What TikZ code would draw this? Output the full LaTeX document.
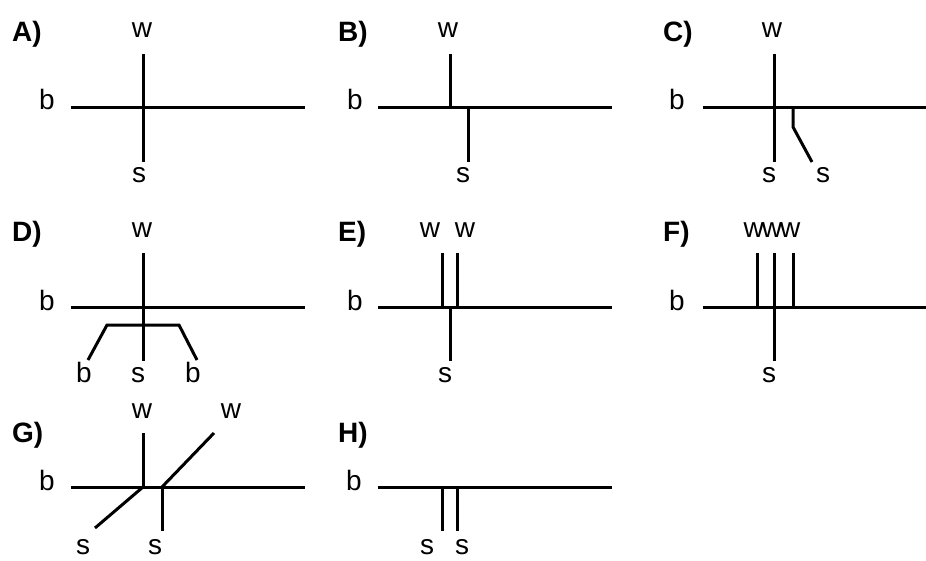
\documentclass[tikz,border=0pt]{standalone}
\usepackage{fontspec}
\setmainfont{Liberation Sans}
\begin{document}
\begin{tikzpicture}[x=1pt,y=-1pt,
  lbl/.style={font=\fontsize{28}{30}\selectfont, inner sep=0pt, anchor=base},
  tag/.style={font=\fontsize{28}{30}\selectfont\bfseries, inner sep=0pt, anchor=base west},
  ln/.style={line width=3pt}]
\useasboundingbox (0,0) rectangle (926,561);

% ---------- A) ----------
\node[tag] (tA) at (12,42) {A)};
\node[lbl] (wA) at (142,38) {w};
\node[lbl] (bA) at (47,110) {b};
\node[lbl] (sA) at (139,183) {s};
\coordinate (A1) at (71,108);  \coordinate (A2) at (305,108);
\coordinate (A3) at (143,54);  \coordinate (A4) at (143,162);
\draw[ln] (A1) -- (A2);
\draw[ln] (A3) -- (A4);

% ---------- B) ----------
\node[tag] (tB) at (338,42) {B)};
\node[lbl] (wB) at (448,38) {w};
\node[lbl] (bB) at (355,110) {b};
\node[lbl] (sB) at (463,183) {s};
\coordinate (B1) at (378,108); \coordinate (B2) at (612,108);
\coordinate (B3) at (450,54);  \coordinate (B4) at (450,108);
\coordinate (B5) at (468,108); \coordinate (B6) at (468,162);
\draw[ln] (B1) -- (B2);
\draw[ln] (B3) -- (B4);
\draw[ln] (B5) -- (B6);

% ---------- C) ----------
\node[tag] (tC) at (663,42) {C)};
\node[lbl] (wC) at (772,38) {w};
\node[lbl] (bC) at (677,110) {b};
\node[lbl] (sC1) at (769,183) {s};
\node[lbl] (sC2) at (823,183) {s};
\coordinate (C1) at (703,108); \coordinate (C2) at (926,108);
\coordinate (C3) at (774,54);  \coordinate (C4) at (774,162);
\coordinate (C5) at (793,108); \coordinate (C6) at (793,127); \coordinate (C7) at (812,162);
\draw[ln] (C1) -- (C2);
\draw[ln] (C3) -- (C4);
\draw[ln] (C5) -- (C6) -- (C7);

% ---------- D) ----------
\node[tag] (tD) at (12,242) {D)};
\node[lbl] (wD) at (142,238) {w};
\node[lbl] (bD) at (47,310) {b};
\node[lbl] (bD1) at (84,382) {b};
\node[lbl] (sD) at (138,382) {s};
\node[lbl] (bD2) at (193,382) {b};
\coordinate (D1) at (71,307);  \coordinate (D2) at (305,307);
\coordinate (D3) at (143,253); \coordinate (D4) at (143,361);
\coordinate (D5) at (88,360);  \coordinate (D6) at (107,325);
\coordinate (D7) at (179,325); \coordinate (D8) at (197,360);
\draw[ln] (D1) -- (D2);
\draw[ln] (D3) -- (D4);
\draw[ln] (D5) -- (D6) -- (D7) -- (D8);

% ---------- E) ----------
\node[tag] (tE) at (338,242) {E)};
\node[lbl] (wE1) at (430,238) {w};
\node[lbl] (wE2) at (465,238) {w};
\node[lbl] (bE) at (355,310) {b};
\node[lbl] (sE) at (445,382) {s};
\coordinate (E1) at (378,307); \coordinate (E2) at (612,307);
\coordinate (E3) at (442,253); \coordinate (E4) at (442,307);
\coordinate (E5) at (457,253); \coordinate (E6) at (457,307);
\coordinate (E7) at (450,307); \coordinate (E8) at (450,361);
\draw[ln] (E1) -- (E2);
\draw[ln] (E3) -- (E4);
\draw[ln] (E5) -- (E6);
\draw[ln] (E7) -- (E8);

% ---------- F) ----------
\node[tag] (tF) at (663,242) {F)};
\node[lbl] (wF) at (772,238) {w\kern-2pt w\kern-2pt w};
\node[lbl] (bF) at (677,310) {b};
\node[lbl] (sF) at (769,382) {s};
\coordinate (F1) at (703,307); \coordinate (F2) at (926,307);
\coordinate (F3) at (757,253); \coordinate (F4) at (757,307);
\coordinate (F5) at (774,253); \coordinate (F6) at (774,361);
\coordinate (F7) at (793,253); \coordinate (F8) at (793,307);
\draw[ln] (F1) -- (F2);
\draw[ln] (F3) -- (F4);
\draw[ln] (F5) -- (F6);
\draw[ln] (F7) -- (F8);

% ---------- G) ----------
\node[tag] (tG) at (12,442) {G)};
\node[lbl] (wG1) at (142,418) {w};
\node[lbl] (wG2) at (231,418) {w};
\node[lbl] (bG) at (47,490) {b};
\node[lbl] (sG1) at (83,554) {s};
\node[lbl] (sG2) at (155,554) {s};
\coordinate (G1) at (71,487);  \coordinate (G2) at (305,487);
\coordinate (G3) at (143,433); \coordinate (G4) at (143,487);
\coordinate (G5) at (214,433); \coordinate (G6) at (162,487);
\coordinate (G7) at (95,528);  \coordinate (G8) at (162,531);
\draw[ln] (G1) -- (G2);
\draw[ln] (G3) -- (G4);
\draw[ln] (G5) -- (G6);
\draw[ln] (G4) -- (G7);
\draw[ln] (G6) -- (G8);

% ---------- H) ----------
\node[tag] (tH) at (338,442) {H)};
\node[lbl] (bH) at (354,490) {b};
\node[lbl] (sH1) at (427,554) {s};
\node[lbl] (sH2) at (462,554) {s};
\coordinate (H1) at (378,487); \coordinate (H2) at (612,487);
\coordinate (H3) at (442,487); \coordinate (H4) at (442,531);
\coordinate (H5) at (457,487); \coordinate (H6) at (457,531);
\draw[ln] (H1) -- (H2);
\draw[ln] (H3) -- (H4);
\draw[ln] (H5) -- (H6);
\end{tikzpicture}
\end{document}
